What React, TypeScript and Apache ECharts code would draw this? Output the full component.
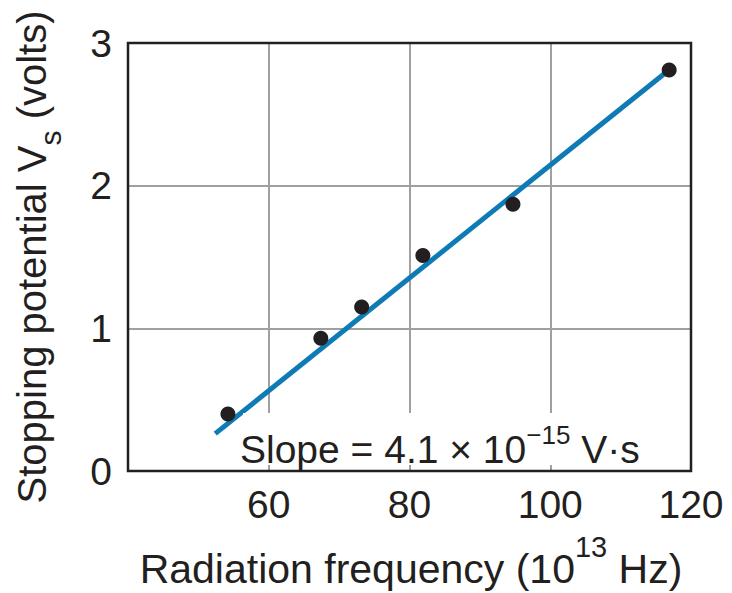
import React, { useEffect, useRef } from "react";
import * as echarts from "echarts";

// Measured data: radiation frequency (10^13 Hz) vs stopping potential (V)
const frequency = [54.2, 67.4, 73.2, 81.9, 94.7, 116.9];
const stoppingPotential = [0.4, 0.93, 1.15, 1.51, 1.87, 2.81];

// Best-fit line end points
const fitFrequency = [52.4, 116.6];
const fitPotential = [0.262, 2.8];

const xTicks = [40, 60, 80, 100, 120];
const yTicks = [0, 1, 2, 3];

const INK = "#231f20";
const FONT = "Liberation Sans";

export default function App() {
  const ref = useRef<HTMLDivElement>(null);
  useEffect(() => {
    if (!ref.current) return;
    const chart = echarts.init(ref.current, null, { renderer: "svg" });
    const gl = 128, gt = 43, gw = 563, gh = 428;
    chart.setOption({
      animation: false,
      backgroundColor: "#ffffff",
      grid: { left: gl, top: gt, right: 732 - gl - gw, bottom: 593 - gt - gh },
      xAxis: {
        type: "value",
        min: xTicks[0],
        max: xTicks[xTicks.length - 1],
        interval: 20,
        axisLine: { show: false },
        axisTick: { show: false },
        splitLine: { show: true, lineStyle: { color: "#a0a0a0", width: 2 } },
        axisLabel: {
          margin: 14,
          color: INK,
          fontFamily: FONT,
          fontSize: 39,
          formatter: (v: number) => (v === xTicks[0] ? "" : String(v)),
        },
      },
      yAxis: {
        type: "value",
        min: yTicks[0],
        max: yTicks[yTicks.length - 1],
        interval: 1,
        axisLine: { show: false },
        axisTick: { show: false },
        splitLine: { show: true, lineStyle: { color: "#a0a0a0", width: 2 } },
        axisLabel: {
          margin: 16,
          color: INK,
          fontFamily: FONT,
          fontSize: 39,
        },
      },
      series: [
        {
          type: "line",
          data: fitFrequency.map((f, i) => [f, fitPotential[i]]),
          symbol: "none",
          lineStyle: { color: "#0f7bb5", width: 5 },
          z: 2,
        },
        {
          type: "scatter",
          data: frequency.map((f, i) => [f, stoppingPotential[i]]),
          symbolSize: 15,
          itemStyle: { color: INK, opacity: 1 },
          z: 3,
        },
      ],
      graphic: [
        {
          type: "rect",
          shape: { x: 243, y: 413, width: 447, height: 52 },
          style: { fill: "#ffffff" },
          z: 20,
        },
        {
          type: "text",
          x: 240,
          y: 469,
          z: 21,
          style: {
            text: "{m|Slope = 4.1 × 10}{s|−15}{m| V·s}",
            align: "left",
            verticalAlign: "bottom",
            fill: INK,
            rich: {
              m: { fontFamily: FONT, fontSize: 39, lineHeight: 46, verticalAlign: "bottom", fill: INK },
              s: { fontFamily: FONT, fontSize: 26, lineHeight: 26, padding: [0, 0, 21, 0], verticalAlign: "bottom", fill: INK },
            },
          },
        },
        {
          type: "rect",
          shape: { x: gl, y: gt, width: gw, height: gh },
          style: { fill: "none", stroke: INK, lineWidth: 2.5 },
          z: 30,
        },
        {
          type: "text",
          x: 411,
          y: 589,
          z: 21,
          style: {
            text: "{m|Radiation frequency (10}{s|13}{m| Hz)}",
            align: "center",
            verticalAlign: "bottom",
            fill: INK,
            rich: {
              m: { fontFamily: FONT, fontSize: 41, lineHeight: 48, verticalAlign: "bottom", fill: INK },
              s: { fontFamily: FONT, fontSize: 29, lineHeight: 29, padding: [0, 0, 28, 0], verticalAlign: "bottom", fill: INK },
            },
          },
        },
        {
          type: "text",
          x: 12,
          y: 257,
          rotation: Math.PI / 2,
          z: 21,
          style: {
            text: "{m|Stopping potential V}{s|s}{m| (volts)}",
            align: "center",
            verticalAlign: "top",
            fill: INK,
            rich: {
              m: { fontFamily: FONT, fontSize: 40, lineHeight: 48, verticalAlign: "top", fill: INK },
              s: { fontFamily: FONT, fontSize: 30, lineHeight: 30, padding: [23, 0, 0, 0], verticalAlign: "top", fill: INK },
            },
          },
        },
      ],
    });
    return () => chart.dispose();
  }, []);
  return (
    <div
      ref={ref}
      style={{ position: "fixed", left: 0, top: 0, width: 732, height: 593 }}
    />
  );
}
